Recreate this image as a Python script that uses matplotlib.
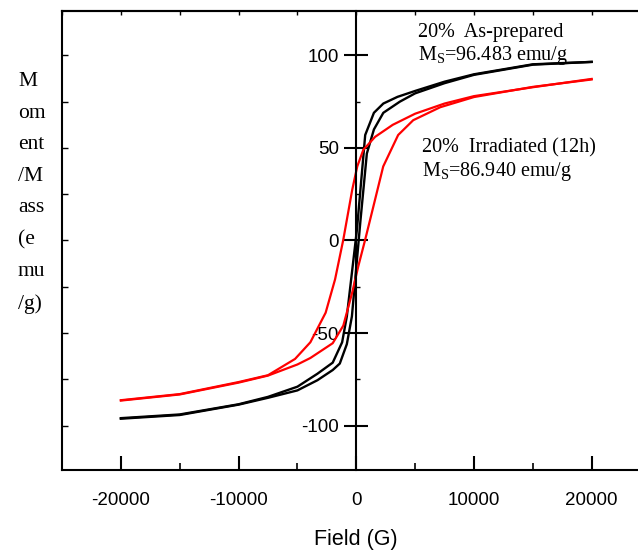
import matplotlib
matplotlib.use("Agg")
import matplotlib.pyplot as plt
from matplotlib.ticker import MultipleLocator, NullFormatter

# ==========================================
# 資料
# ==========================================
# 20% As-prepared : 下降分支 / 上升分支
asp_down_h = [20000, 15000, 10000, 7500, 5000, 3500, 2300, 1500, 760, 60,
              -800, -1200, -2000, -3300, -5000, -7500, -10000, -15000, -20000]
asp_down_m = [96.5, 95.2, 89.8, 85.8, 80.8, 77.6, 74.0, 69.0, 57.0, 6.0,
              -41.0, -55.0, -66.0, -72.0, -79.0, -84.5, -88.5, -94.0, -96.0]
asp_up_h = [-20000, -15000, -10000, -7500, -5000, -3300, -2000, -1400, -800, -370,
            360, 900, 1500, 2300, 3700, 5000, 7500, 10000, 15000, 20000]
asp_up_m = [-96.3, -94.3, -88.7, -85.0, -81.0, -75.5, -70.0, -66.5, -56.0, -41.0,
            11.0, 47.0, 60.0, 69.0, 75.0, 79.5, 85.0, 89.5, 95.0, 96.5]

# 20% Irradiated (12h)
irr_down_h = [20000, 15000, 10000, 7500, 5000, 3100, 1600, 600, 85, -340,
              -1100, -1800, -2600, -3900, -5200, -7500, -10000, -15000, -20000]
irr_down_m = [87.3, 82.8, 78.0, 74.0, 68.5, 62.5, 56.0, 49.0, 40.0, 27.5,
              0.5, -21.0, -39.0, -55.0, -64.0, -72.8, -76.5, -83.0, -86.3]
irr_up_h = [-20000, -15000, -10000, -7500, -5000, -3900, -2000, -1100, -340, 170,
            760, 1440, 2290, 3560, 4840, 7130, 10000, 15000, 20000]
irr_up_m = [-86.5, -83.2, -76.8, -73.0, -67.0, -63.5, -55.5, -46.0, -28.0, -14.0,
            0.5, 18.0, 40.0, 57.0, 65.0, 72.0, 77.5, 83.0, 87.0]

x_ticks = [-20000, -10000, 0, 10000, 20000]
y_ticks = [-100, -50, 0, 50, 100]

plt.rcParams["axes.unicode_minus"] = False
plt.rcParams["mathtext.fontset"] = "custom"
plt.rcParams["mathtext.rm"] = "Liberation Serif"

# ==========================================
# 繪圖
# ==========================================
fig = plt.figure(figsize=(6.38, 5.5), dpi=100)
ax = fig.add_axes([0.0972, 0.1455, 0.9224, 0.8345])

ax.plot(asp_down_h, asp_down_m, color="black", linewidth=1.7)
ax.plot(asp_up_h, asp_up_m, color="black", linewidth=1.7)
ax.plot(irr_down_h, irr_down_m, color="#ff0000", linewidth=1.6)
ax.plot(irr_up_h, irr_up_m, color="#ff0000", linewidth=1.6)

ax.set_xlim(-25000, 25000)
ax.set_ylim(-124, 124)

# 中央 y 軸
ax.spines["left"].set_position(("data", 0))
ax.spines["right"].set_visible(False)
for s in ["left", "bottom", "top"]:
    ax.spines[s].set_linewidth(1.5)

ax.set_xticks(x_ticks)
ax.set_yticks(y_ticks)
ax.xaxis.set_minor_locator(MultipleLocator(5000))
ax.yaxis.set_minor_locator(MultipleLocator(25))

ax.tick_params(axis="y", which="major", direction="inout", length=17, width=1.5, pad=4)
ax.tick_params(axis="y", which="minor", direction="in", length=3, width=1)
ax.tick_params(axis="x", which="major", direction="in", length=10, width=1.5, pad=16, top=False)
ax.tick_params(axis="x", which="minor", direction="in", length=5, width=1.2, top=False)
for lab in ax.get_xticklabels() + ax.get_yticklabels():
    lab.set_fontfamily("Liberation Sans")
    lab.set_fontsize(13.5)

# 外框左側與上側的小刻度
sec_y = ax.secondary_yaxis(0.0)
sec_y.yaxis.set_major_locator(MultipleLocator(25))
sec_y.yaxis.set_major_formatter(NullFormatter())
sec_y.tick_params(direction="in", length=4, width=1)
sec_y.spines["left"].set_linewidth(1.5)

sec_x = ax.secondary_xaxis("top")
sec_x.xaxis.set_major_locator(MultipleLocator(5000))
sec_x.xaxis.set_major_formatter(NullFormatter())
sec_x.tick_params(direction="in", length=3, width=1)
sec_x.spines["top"].set_linewidth(1.5)

ax.set_xlabel("Field (G)", fontfamily="Liberation Sans", fontsize=15.5, labelpad=14)

serif = "Liberation Serif"
ax.text(5260, 110, "20%  As-prepared", fontfamily=serif, fontsize=14.5, va="baseline")
ax.text(5260, 97.6, r"M$_\mathrm{S}$=96.483 emu/g", fontfamily=serif, fontsize=14.5, va="baseline")
ax.text(5600, 47.4, "20%  Irradiated (12h)", fontfamily=serif, fontsize=14.5, va="baseline")
ax.text(5600, 35.0, r"M$_\mathrm{S}$=86.940 emu/g", fontfamily=serif, fontsize=14.5, va="baseline")

fig.text(18 / 638, 1 - 72 / 550, "M\nom\nent\n/M\nass\n(e\nmu\n/g)",
         fontfamily=serif, fontsize=15.5, va="top", ha="left", linespacing=1.9)

fig.savefig("out.png", dpi=100)
